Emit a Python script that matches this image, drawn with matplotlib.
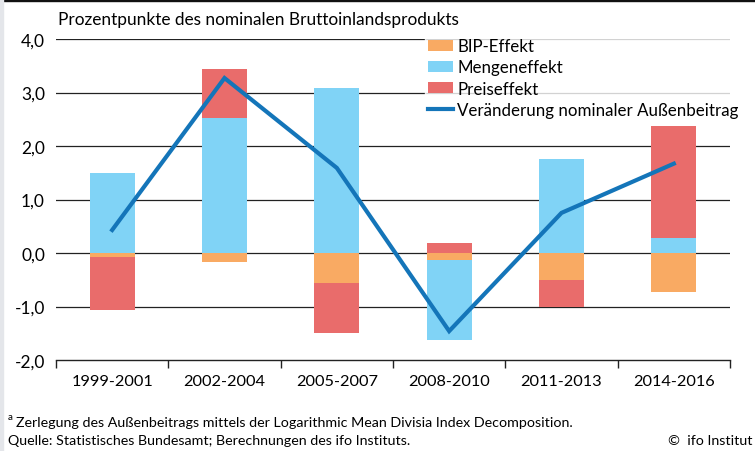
import matplotlib.pyplot as plt
import numpy as np
from matplotlib.patches import Patch, Rectangle
from matplotlib.lines import Line2D

plt.rcParams['font.family'] = ['Lato', 'DejaVu Sans']

periods = ["1999-2001", "2002-2004", "2005-2007", "2008-2010", "2011-2013", "2014-2016"]
bip_effekt = [-0.07, -0.16, -0.57, -0.13, -0.50, -0.72]
mengeneffekt = [1.50, 2.53, 3.09, -1.50, 1.75, 0.28]
preiseffekt = [-1.00, 0.90, -0.93, 0.18, -0.50, 2.09]
aussenbeitrag = [0.43, 3.27, 1.59, -1.46, 0.75, 1.67]

y_ticks = [-2, -1, 0, 1, 2, 3, 4]

c_bip = "#F9AA63"
c_menge = "#80D3F6"
c_preis = "#E96C6B"
c_line = "#1475B9"

fig = plt.figure(figsize=(7.55, 4.52), dpi=100)
ax = fig.add_axes([56 / 755, 1 - 361 / 452, 674 / 755, 321 / 452])

x = np.arange(len(periods))
width = 0.4
pos_base = np.zeros(len(periods))
neg_base = np.zeros(len(periods))
for vals, col in [(bip_effekt, c_bip), (mengeneffekt, c_menge), (preiseffekt, c_preis)]:
    vals = np.array(vals)
    base = np.where(vals >= 0, pos_base, neg_base)
    ax.bar(x, vals, width, bottom=base, color=col, zorder=3)
    pos_base = pos_base + np.where(vals >= 0, vals, 0)
    neg_base = neg_base + np.where(vals < 0, vals, 0)

ax.plot(x, aussenbeitrag, color=c_line, lw=3, zorder=4, solid_joinstyle='miter')

ax.set_xlim(-0.5, len(periods) - 0.5)
ax.set_ylim(-2, 4)
for v in y_ticks[1:]:
    ax.axhline(v, color="#222222", lw=0.9, zorder=1)
ax.set_yticks(y_ticks)
ax.set_yticklabels([f"{v:.1f}".replace(".", ",") for v in y_ticks], fontsize=12.5)
ax.tick_params(axis='y', length=0, pad=8)
ax.set_xticks(x)
ax.set_xticklabels(periods, fontsize=11.8)
ax.set_xticks(np.arange(-0.5, len(periods)), minor=True)
ax.tick_params(axis='x', which='major', length=0, pad=10)
ax.tick_params(axis='x', which='minor', length=6, width=1, color="#222222", direction='out')
for s in ['left', 'right', 'top']:
    ax.spines[s].set_visible(False)
ax.spines['bottom'].set_color("#222222")
ax.spines['bottom'].set_linewidth(1)

handles = [
    Patch(facecolor=c_bip, label="BIP-Effekt"),
    Patch(facecolor=c_menge, label="Mengeneffekt"),
    Patch(facecolor=c_preis, label="Preiseffekt"),
    Line2D([], [], color=c_line, lw=3, label="Veränderung nominaler Außenbeitrag"),
]
leg = ax.legend(handles=handles, loc='upper left', bbox_to_anchor=(425 / 755, 1 - 36 / 452),
                bbox_transform=fig.transFigure, frameon=True, fancybox=False, fontsize=12.2,
                handlelength=1.45, handleheight=0.65, handletextpad=0.25, labelspacing=0.3,
                borderpad=0.2, borderaxespad=0)
leg.get_frame().set_facecolor('white')
leg.get_frame().set_edgecolor('white')
leg.set_zorder(5)

fig.text(58 / 755, 1 - 20 / 452, "Prozentpunkte des nominalen Bruttoinlandsprodukts",
         fontsize=12.4, va='center', ha='left')
fig.text(8 / 755, 1 - 418 / 452, "a", fontsize=7, va='center', ha='left')
fig.text(16 / 755, 1 - 423 / 452, "Zerlegung des Außenbeitrags mittels der Logarithmic Mean Divisia Index Decomposition.",
         fontsize=10.3, va='center', ha='left')
fig.text(8 / 755, 1 - 441 / 452, "Quelle: Statistisches Bundesamt; Berechnungen des ifo Instituts.",
         fontsize=10.3, va='center', ha='left')
fig.text(752 / 755, 1 - 441 / 452, "©  ifo Institut", fontsize=10.3, va='center', ha='right')

fig.patches.append(Rectangle((0, 1 - 2 / 452), 1, 2 / 452, transform=fig.transFigure,
                             color="#111111", zorder=0))
fig.patches.append(Rectangle((0, 0), 3 / 755, 1, transform=fig.transFigure,
                             color="#E4E6EA", zorder=0))

fig.savefig("out.png", dpi=100)
